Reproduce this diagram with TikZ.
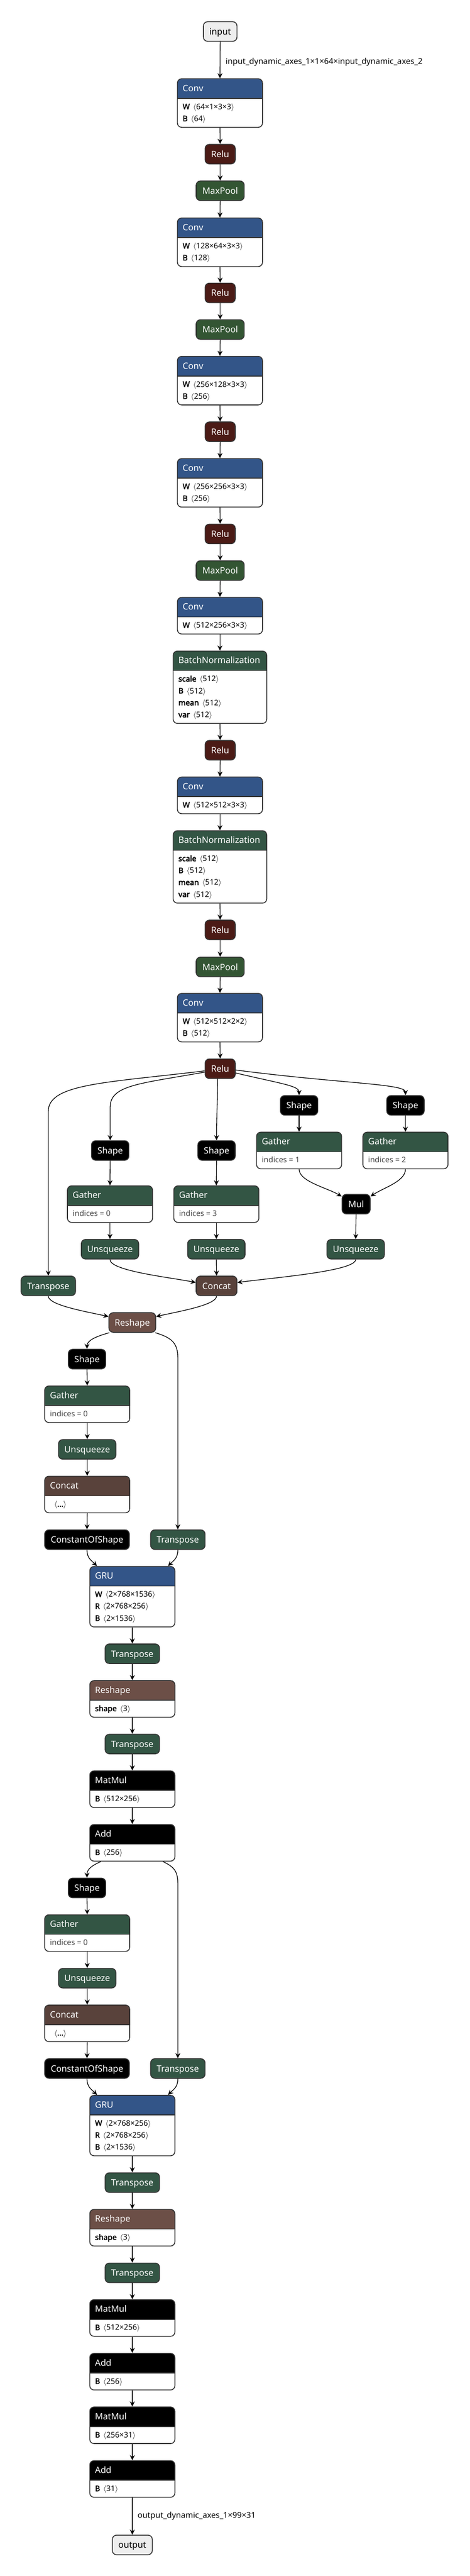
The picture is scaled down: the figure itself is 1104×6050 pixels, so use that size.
\documentclass[tikz,border=0pt]{standalone}
\usepackage{fontspec}
\setmainfont{Noto Sans}[BoldFont={Noto Sans}, BoldFeatures={FakeBold=2.5}]
\usetikzlibrary{arrows.meta}
\definecolor{clayer}{RGB}{51,85,136}
\definecolor{cact}{RGB}{75,27,22}
\definecolor{cpool}{RGB}{51,85,51}
\definecolor{cnorm}{RGB}{51,85,68}
\definecolor{cshape}{RGB}{108,79,71}
\definecolor{ctensor}{RGB}{89,66,59}
\definecolor{cborder}{RGB}{51,51,51}
\definecolor{cio}{RGB}{238,238,238}
\newcommand\sh[1]{$\langle$#1$\rangle$}
\newcommand\attrnode[8]{%
  \pgfmathsetmacro\attrh{(58+28*#5)*0.5}%
  \node[abox, minimum width=#4*0.5pt, minimum height=\attrh pt, hdr=#6] (#1) at (#2,#3) {};
  \node[htext] (#1-t) at ([xshift=6.5pt,yshift=-15.2pt]#1.north west) {#7};
  \foreach \row [count=\i] in {#8} {%
    \pgfmathsetmacro\ry{-(36.35+(\i-1)*14)}%
    \node[rtext] (#1-r\i) at ([xshift=6.5pt,yshift=\ry pt]#1.north west) {\row};
  }%
}
\tikzset{
  op/.style={draw=cborder, line width=1pt, rounded corners=5pt, text=white,
    font=\fontsize{10.3}{12}\selectfont, minimum height=23pt, inner sep=0pt,
    text height=7.4pt, text depth=0pt, anchor=north},
  nRelu/.style={op, fill=cact, minimum width=35.5pt},
  nPool/.style={op, fill=cpool, minimum width=56.5pt},
  nShape/.style={op, fill=black, minimum width=44pt},
  nMul/.style={op, fill=black, minimum width=33pt},
  nTrans/.style={op, fill=cnorm, minimum width=64pt},
  nUnsq/.style={op, fill=cnorm, minimum width=67.5pt},
  nConcat/.style={op, fill=ctensor, minimum width=48pt},
  nReshape/.style={op, fill=cshape, minimum width=55pt},
  nCos/.style={op, fill=black, minimum width=99.5pt},
  nIO/.style={op, fill=cio, text=black},
  abox/.style={draw=cborder, line width=1pt, rounded corners=5pt, fill=white, inner sep=0pt, anchor=north},
  hdr/.style={path picture={
    \fill[#1, sharp corners] (path picture bounding box.north west) rectangle ([yshift=-23pt]path picture bounding box.north east);
    \draw[cborder, line width=1pt, sharp corners] ([yshift=-23pt]path picture bounding box.north west) -- ([yshift=-23pt]path picture bounding box.north east);}},
  htext/.style={anchor=base west, inner sep=0pt, text=white, font=\fontsize{10.3}{12}\selectfont},
  rtext/.style={anchor=base west, inner sep=0pt, text=black, font=\fontsize{9}{10}\selectfont},
  lbl/.style={anchor=base west, inner sep=0pt, text=black, font=\fontsize{9.5}{11}\selectfont},
  edge/.style={draw=black, line width=0.8pt, -{Stealth[length=6pt,width=5.8pt,inset=2pt]}}
}
\begin{document}
\begin{tikzpicture}[x=0.5pt,y=-0.5pt]
\fill[white] (0,0) rectangle (1104,6050);
\useasboundingbox (0,0) rectangle (1104,6050);

% ---------- main column ----------
\node[nIO, minimum width=39.5pt] (input) at (517.5,50) {input};
\node[lbl] (lab1) at (530,151) {input\_dynamic\_axes\_1×1×64×input\_dynamic\_axes\_2};
\attrnode{conv1}{517}{184}{200}{2}{clayer}{Conv}{\textbf{W}\, \sh{64×1×3×3},\textbf{B}\, \sh{64}}
\node[nRelu] (relu1) at (517.5,338) {Relu};
\node[nPool] (pool1) at (517.5,424) {MaxPool};
\attrnode{conv2}{517}{511}{200}{2}{clayer}{Conv}{\textbf{W}\, \sh{128×64×3×3},\textbf{B}\, \sh{128}}
\node[nRelu] (relu2) at (517.5,664) {Relu};
\node[nPool] (pool2) at (517.5,750) {MaxPool};
\attrnode{conv3}{517}{836}{200}{2}{clayer}{Conv}{\textbf{W}\, \sh{256×128×3×3},\textbf{B}\, \sh{256}}
\node[nRelu] (relu3) at (517.5,990) {Relu};
\attrnode{conv4}{517}{1076}{200}{2}{clayer}{Conv}{\textbf{W}\, \sh{256×256×3×3},\textbf{B}\, \sh{256}}
\node[nRelu] (relu4) at (517.5,1230) {Relu};
\node[nPool] (pool3) at (517.5,1316) {MaxPool};
\attrnode{conv5}{517}{1402}{200}{1}{clayer}{Conv}{\textbf{W}\, \sh{512×256×3×3}}
\attrnode{bn1}{517}{1528}{220}{4}{cnorm}{BatchNormalization}{\textbf{scale}\, \sh{512},\textbf{B}\, \sh{512},\textbf{mean}\, \sh{512},\textbf{var}\, \sh{512}}
\node[nRelu] (relu5) at (517.5,1738) {Relu};
\attrnode{conv6}{517}{1824}{200}{1}{clayer}{Conv}{\textbf{W}\, \sh{512×512×3×3}}
\attrnode{bn2}{517}{1950}{220}{4}{cnorm}{BatchNormalization}{\textbf{scale}\, \sh{512},\textbf{B}\, \sh{512},\textbf{mean}\, \sh{512},\textbf{var}\, \sh{512}}
\node[nRelu] (relu6) at (517.5,2160) {Relu};
\node[nPool] (pool4) at (517.5,2247) {MaxPool};
\attrnode{conv7}{517}{2332}{200}{2}{clayer}{Conv}{\textbf{W}\, \sh{512×512×2×2},\textbf{B}\, \sh{512}}
\node[nRelu] (relu7) at (517.5,2486) {Relu};

% ---------- fan-out ----------
\node[nTrans] (trA) at (113.5,2996) {Transpose};
\node[nShape] (shA) at (259,2678) {Shape};
\node[nShape] (shB) at (509,2678) {Shape};
\node[nShape] (shC) at (703,2572) {Shape};
\node[nShape] (shD) at (953,2572) {Shape};
\attrnode{gaA}{258.5}{2784}{200}{1}{cnorm}{Gather}{\color{black!75}indices = 0}
\attrnode{gaB}{508.5}{2784}{200}{1}{cnorm}{Gather}{\color{black!75}indices = 3}
\attrnode{gaC}{703}{2658}{200}{1}{cnorm}{Gather}{\color{black!75}indices = 1}
\attrnode{gaD}{953}{2658}{200}{1}{cnorm}{Gather}{\color{black!75}indices = 2}
\node[nMul] (mul) at (837,2804) {Mul};
\node[nUnsq] (unA) at (258.5,2910) {Unsqueeze};
\node[nUnsq] (unB) at (508.5,2910) {Unsqueeze};
\node[nUnsq] (unC) at (836,2910) {Unsqueeze};
\node[nConcat] (cat) at (509,2996) {Concat};
\node[nReshape] (resh1) at (311,3082) {Reshape};

% ---------- block 1 ----------
\node[nShape] (sh1) at (204.5,3168) {Shape};
\attrnode{ga1}{205}{3254}{200}{1}{cnorm}{Gather}{\color{black!75}indices = 0}
\node[nUnsq] (un1) at (205,3380) {Unsqueeze};
\attrnode{cc1}{205}{3466}{200}{1}{ctensor}{Concat}{\hspace{5pt}\textbf{\sh{...}}}
\node[nCos] (cos1) at (204.5,3592) {ConstantOfShape};
\node[nTrans] (trR1) at (418,3592) {Transpose};
\attrnode{gru1}{311}{3678}{200}{3}{clayer}{GRU}{\textbf{W}\, \sh{2×768×1536},\textbf{R}\, \sh{2×768×256},\textbf{B}\, \sh{2×1536}}
\node[nTrans] (tr1) at (311,3860) {Transpose};
\attrnode{rs1}{311}{3946}{200}{1}{cshape}{Reshape}{\textbf{shape}\, \sh{3}}
\node[nTrans] (tr2) at (311,4072) {Transpose};
\attrnode{mm1}{311}{4158}{200}{1}{black}{MatMul}{\textbf{B}\, \sh{512×256}}
\attrnode{add1}{311}{4284}{200}{1}{black}{Add}{\textbf{B}\, \sh{256}}

% ---------- block 2 ----------
\node[nShape] (sh2) at (204.5,4410) {Shape};
\attrnode{ga2}{205}{4496}{200}{1}{cnorm}{Gather}{\color{black!75}indices = 0}
\node[nUnsq] (un2) at (205,4622) {Unsqueeze};
\attrnode{cc2}{205}{4708}{200}{1}{ctensor}{Concat}{\hspace{5pt}\textbf{\sh{...}}}
\node[nCos] (cos2) at (204.5,4834) {ConstantOfShape};
\node[nTrans] (trR2) at (418,4834) {Transpose};
\attrnode{gru2}{311}{4920}{200}{3}{clayer}{GRU}{\textbf{W}\, \sh{2×768×256},\textbf{R}\, \sh{2×768×256},\textbf{B}\, \sh{2×1536}}
\node[nTrans] (tr3) at (311,5102) {Transpose};
\attrnode{rs2}{311}{5188}{200}{1}{cshape}{Reshape}{\textbf{shape}\, \sh{3}}
\node[nTrans] (tr4) at (311,5314) {Transpose};
\attrnode{mm2}{311}{5400}{200}{1}{black}{MatMul}{\textbf{B}\, \sh{512×256}}
\attrnode{add2}{311}{5526}{200}{1}{black}{Add}{\textbf{B}\, \sh{256}}
\attrnode{mm3}{311}{5652}{200}{1}{black}{MatMul}{\textbf{B}\, \sh{256×31}}
\attrnode{add3}{311}{5778}{200}{1}{black}{Add}{\textbf{B}\, \sh{31}}
\node[nIO, minimum width=47pt] (output) at (311,5953) {output};
\node[lbl] (lab2) at (323,5914) {output\_dynamic\_axes\_1×99×31};

% ---------- edges: straight ----------
\foreach \a/\b in {input/conv1,conv1/relu1,relu1/pool1,pool1/conv2,conv2/relu2,relu2/pool2,
  pool2/conv3,conv3/relu3,relu3/conv4,conv4/relu4,relu4/pool3,pool3/conv5,conv5/bn1,
  bn1/relu5,relu5/conv6,conv6/bn2,bn2/relu6,relu6/pool4,pool4/conv7,conv7/relu7,
  shC/gaC,shD/gaD,shA/gaA,shB/gaB,gaA/unA,gaB/unB,mul/unC,unB/cat,
  sh1/ga1,ga1/un1,un1/cc1,cc1/cos1,gru1/tr1,tr1/rs1,rs1/tr2,tr2/mm1,mm1/add1,
  sh2/ga2,ga2/un2,un2/cc2,cc2/cos2,gru2/tr3,tr3/rs2,rs2/tr4,tr4/mm2,mm2/add2,add2/mm3,mm3/add3,add3/output}
  \draw[edge] (\a.south) -- (\b.north);

% ---------- edges: fan-out ----------
\draw[edge] ([yshift=-2.5pt]relu7.west) .. controls (250,2543) and (113.5,2545) .. (113.5,2610) -- (trA.north);
\draw[edge] ([yshift=-4pt]relu7.west) .. controls (330,2545) and (259,2548) .. (259,2600) -- (shA.north);
\draw[edge] ([xshift=-3pt]relu7.south) .. controls (511,2600) and (509,2620) .. (shB.north);
\draw[edge] ([yshift=-5pt]relu7.east) .. controls (660,2545) and (703,2550) .. (shC.north);
\draw[edge] ([yshift=-1.5pt]relu7.east) .. controls (800,2545) and (953,2545) .. (shD.north);
\draw[edge] (gaC.south) .. controls (703,2775) and (770,2790) .. ([yshift=-3pt]mul.north west);
\draw[edge] (gaD.south) .. controls (953,2775) and (900,2790) .. ([yshift=-3pt]mul.north east);
\draw[edge] (unA.south) .. controls (258.5,2985) and (400,3000) .. ([yshift=-8pt]cat.north west);
\draw[edge] (unC.south) .. controls (836,2985) and (650,3000) .. ([yshift=-8pt]cat.north east);
\draw[edge] (trA.south) .. controls (113.5,3065) and (200,3080) .. ([yshift=-5pt]resh1.north west);
\draw[edge] (cat.south) .. controls (509,3065) and (420,3080) .. ([yshift=-5pt]resh1.north east);

% ---------- edges: block 1 ----------
\draw[edge] ([xshift=1pt]resh1.south west) .. controls (220,3140) and (204.5,3150) .. (sh1.north);
\draw[edge] ([xshift=-1pt]resh1.south east) .. controls (405,3142) and (418,3155) .. (418,3190) -- (trR1.north);
\draw[edge] (cos1.south) .. controls (204.5,3660) and (215,3665) .. ([xshift=-41.5pt]gru1.north);
\draw[edge] (trR1.south) .. controls (418,3660) and (408,3665) .. ([xshift=42pt]gru1.north);

% ---------- edges: block 2 ----------
\draw[edge] ([xshift=-37pt]add1.south) .. controls (215,4382) and (204.5,4390) .. (sh2.north);
\draw[edge] ([xshift=36pt]add1.south) .. controls (410,4385) and (418,4395) .. (418,4425) -- (trR2.north);
\draw[edge] (cos2.south) .. controls (204.5,4902) and (215,4907) .. ([xshift=-41.5pt]gru2.north);
\draw[edge] (trR2.south) .. controls (418,4902) and (408,4907) .. ([xshift=42pt]gru2.north);
\end{tikzpicture}
\end{document}
